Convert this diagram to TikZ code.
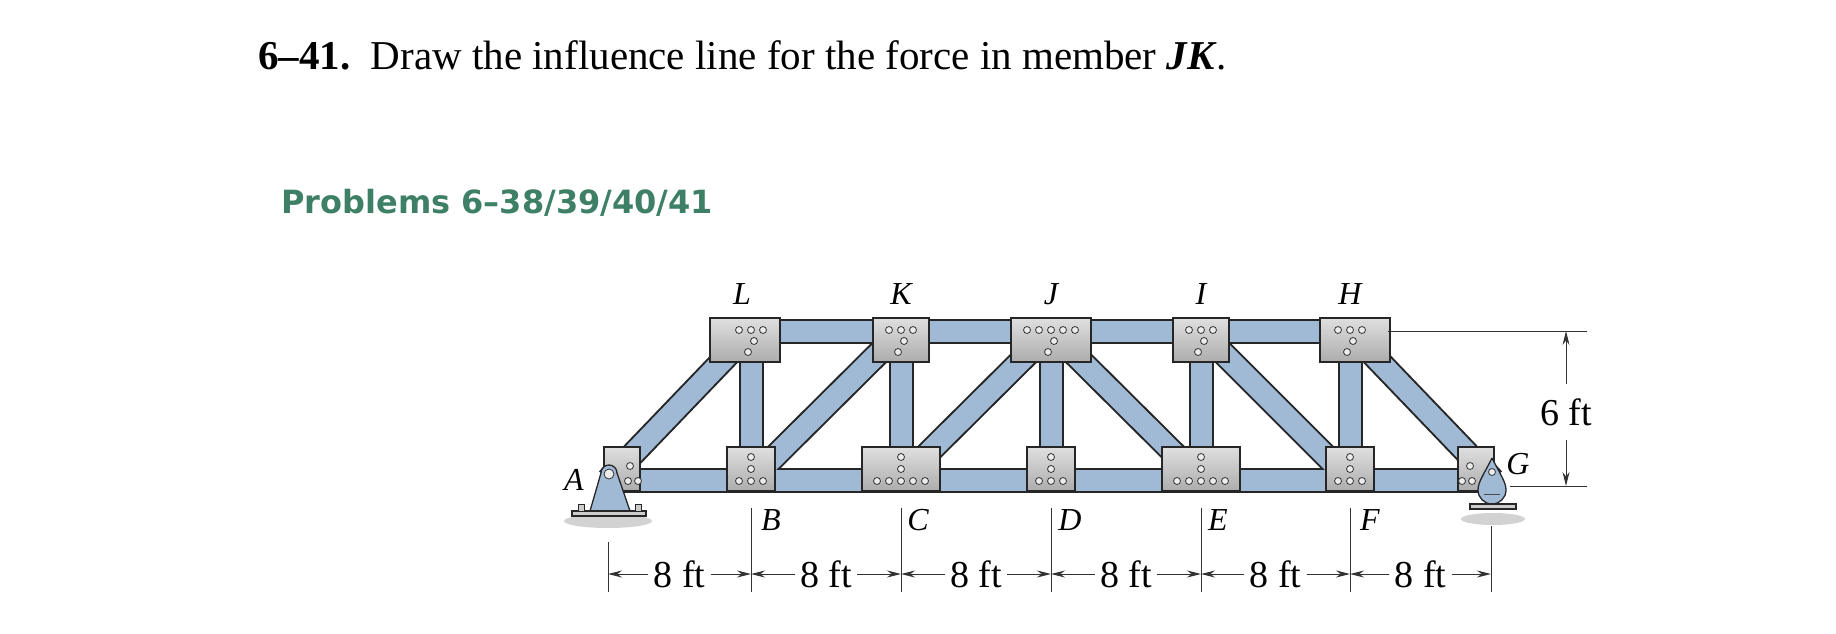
\documentclass[tikz,border=0pt]{standalone}
\usepackage{fontspec}
\setmainfont{Liberation Serif}
\newfontfamily\headfont{DejaVu Sans}
\usetikzlibrary{shapes.misc,arrows.meta}
\definecolor{steel}{RGB}{160,186,214}
\definecolor{heading}{RGB}{62,128,102}
\tikzset{
 memo/.style={line width=25pt,black!85},
 memi/.style={line width=21pt,steel},
 plate/.style={chamfered rectangle,chamfered rectangle corners={south west,south east},chamfered rectangle xsep=10pt,chamfered rectangle ysep=10pt,draw=black!85,line width=1.3pt,top color=gray!25,bottom color=gray!65,inner sep=0pt},
 tplate/.style={plate,minimum width=70pt,minimum height=44pt},
 bplate/.style={plate,chamfered rectangle corners={north west,north east},minimum width=48pt,minimum height=44pt},
 rivet/.style={circle,draw=black!80,fill=gray!15,line width=0.8pt,inner sep=0pt,minimum size=7pt},
 lab/.style={font=\fontsize{32}{32}\selectfont\itshape,inner sep=0pt},
 dim/.style={font=\fontsize{38}{38}\selectfont,inner sep=5pt,fill=white},
 dline/.style={line width=1pt,black!80},
 arr/.style={dline,-{Stealth[length=14pt,width=7pt]}}
}
\begin{document}
\begin{tikzpicture}[x=1pt,y=-1pt]
\useasboundingbox (0,0) rectangle (1836,634);
\node[anchor=base west,inner sep=0pt,font=\fontsize{41}{41}\selectfont] (title) at (258,70) {\textbf{6–41.}\enspace Draw the influence line for the force in member \textbf{\textit{JK}}.};
\node[anchor=base west,inner sep=0pt,font=\headfont\bfseries\fontsize{32}{32}\selectfont,text=heading] (head) at (281,213) {Problems 6–38/39/40/41};
% joints
\foreach \n/\x in {A/608,B/751,C/901,D/1051,E/1201,F/1350,G/1493} \coordinate (\n) at (\x,480);
\foreach \n/\x in {L/751,K/901,J/1051,I/1201,H/1350} \coordinate (\n) at (\x,331);
% shadows of supports
\fill[gray!35] (608,521) ellipse (44 and 7);
\fill[gray!35] (1493,519) ellipse (32 and 6);
% members
\foreach \a/\b in {A/G,L/H,B/L,C/K,D/J,E/I,F/H,A/L,B/K,C/J,J/E,I/F,H/G}{
 \draw[memo] (\a) -- (\b);}
\foreach \a/\b in {A/G,L/H,B/L,C/K,D/J,E/I,F/H,A/L,B/K,C/J,J/E,I/F,H/G}{
 \draw[memi] (\a) -- (\b);}
% plates
\node[tplate,chamfered rectangle corners={south west,south east,north west}] (pL) at (745,340) {};
\node[tplate,minimum width=56pt] (pK) at (901,340) {};
\node[tplate,minimum width=80pt] (pJ) at (1051,340) {};
\node[tplate,minimum width=56pt] (pI) at (1201,340) {};
\node[tplate,chamfered rectangle corners={south west,south east,north east}] (pH) at (1355,340) {};
\node[bplate] (pB) at (751,469) {};
\node[bplate,minimum width=78pt] (pC) at (901,469) {};
\node[bplate] (pD) at (1051,469) {};
\node[bplate,minimum width=78pt] (pE) at (1201,469) {};
\node[bplate] (pF) at (1350,469) {};
\node[bplate,minimum width=36pt,chamfered rectangle corners={north west}] (pA) at (622,469) {};
\node[bplate,minimum width=36pt,chamfered rectangle corners={north east}] (pG) at (1476,469) {};
% rivets
\foreach \x in {751,901,1051,1201,1350}{
 \foreach \dx in {-12,0,12} {\node[rivet] at (\x+\dx,330) {}; \node[rivet] at (\x+\dx,481) {};}
 \node[rivet] at (\x+3,341) {}; \node[rivet] at (\x-3,352) {};
 \node[rivet] at (\x,457) {}; \node[rivet] at (\x,469) {};}
\foreach \x in {1051}{\node[rivet] at (\x+24,330) {}; \node[rivet] at (\x-24,330) {};}
\foreach \x in {901,1201}{\node[rivet] at (\x-24,481) {}; \node[rivet] at (\x+24,481) {};}
\foreach \x in {628,638}{\node[rivet] at (\x,481) {};}
\node[rivet] at (630,466) {};
\foreach \x in {1462,1472}{\node[rivet] at (\x,481) {};}
\node[rivet] at (1470,466) {};
% pin support A
\draw[black!85,line width=1.3pt,fill=steel] (590,511) -- (601,473) arc (180:360:8) -- (630,511) -- cycle;
\node[rivet,minimum size=10pt] (pinA) at (609,474) {};
\draw[black!85,line width=1.3pt,fill=gray!40] (572,511) rectangle (646,516);
\foreach \x in {581,638}{\draw[black!85,fill=gray!40] (\x-3,504) rectangle (\x+3,511);}
% rocker G
\draw[black!85,line width=1.3pt,fill=steel] (1492,458) .. controls (1484,474) and (1478,482) .. (1478,490) arc (180:0:14) .. controls (1506,482) and (1500,474) .. (1492,458);
\node[rivet] (pinG) at (1492,472) {};
\draw[black!70,line width=1pt] (1484,494) -- (1500,494);
\draw[black!85,line width=1.3pt,fill=gray!40] (1470,504) rectangle (1516,509);
% labels
\node[lab] (lL) at (742,294) {L};
\node[lab] (lK) at (901,294) {K};
\node[lab] (lJ) at (1051,294) {J};
\node[lab] (lI) at (1201,294) {I};
\node[lab] (lH) at (1350,294) {H};
\node[lab] (lA) at (574,480) {A};
\node[lab] (lG) at (1518,464) {G};
\node[lab] (lB) at (771,520) {B};
\node[lab] (lC) at (918,520) {C};
\node[lab] (lD) at (1070,520) {D};
\node[lab] (lE) at (1218,520) {E};
\node[lab] (lF) at (1370,520) {F};
% dimension ticks
\foreach \n/\x/\t in {tA/608/542,tB/751/508,tC/901/508,tD/1051/508,tE/1201/508,tF/1350/508,tG/1491/526}{
 \coordinate (\n top) at (\x,\t); \coordinate (\n) at (\x,574); \coordinate (\n bot) at (\x,592);
 \draw[dline] (\n top) -- (\n bot);}
\foreach \p/\q/\i in {tA/tB/1,tB/tC/2,tC/tD/3,tD/tE/4,tE/tF/5,tF/tG/6}{
 \path (\p) -- (\q) node[midway,dim] (d\i) {8 ft};
 \draw[arr] (d\i.west) -- (\p);
 \draw[arr] (d\i.east) -- (\q);}
% 6 ft
\coordinate (hT1) at (1388,331); \coordinate (hT2) at (1587,331);
\coordinate (hB1) at (1510,486); \coordinate (hB2) at (1587,486);
\draw[dline] (hT1) -- (hT2); \draw[dline] (hB1) -- (hB2);
\coordinate (vT) at (1566,331); \coordinate (vB) at (1566,486);
\node[dim,inner sep=14pt] (d6) at (1566,412) {6 ft};
\draw[arr] (d6.north) -- (vT);
\draw[arr] (d6.south) -- (vB);
\end{tikzpicture}
\end{document}
